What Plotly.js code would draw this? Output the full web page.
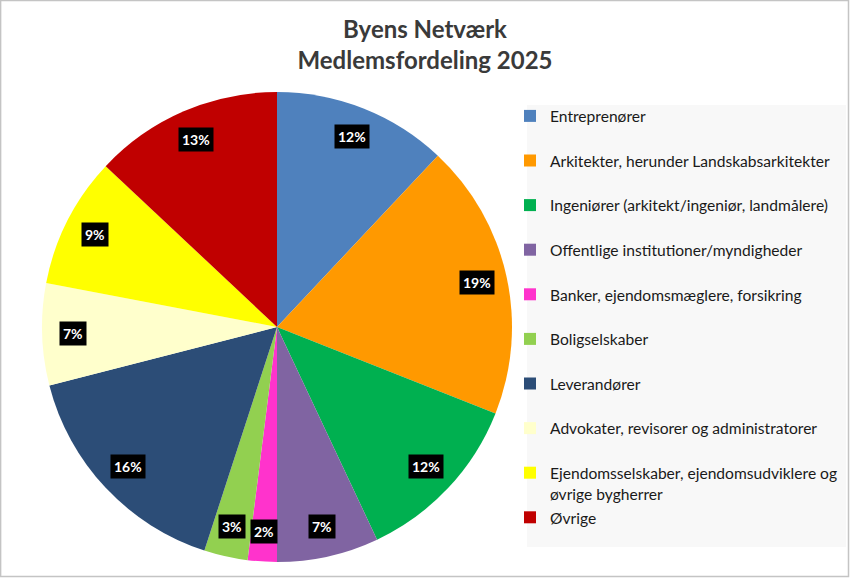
<!DOCTYPE html>
<html>
<head>
<meta charset="utf-8">
<script src="https://cdn.plot.ly/plotly-3.0.1.min.js"></script>
<style>
  html, body { margin: 0; padding: 0; background: #fff; }
  #chart { width: 850px; height: 578px; }
</style>
</head>
<body>
<div id="chart"></div>
<script>
// Member groups, clockwise from 12 o'clock
const categories = [
  "Entreprenører",
  "Arkitekter, herunder Landskabsarkitekter",
  "Ingeniører (arkitekt/ingeniør, landmålere)",
  "Offentlige institutioner/myndigheder",
  "Banker, ejendomsmæglere, forsikring",
  "Boligselskaber",
  "Leverandører",
  "Advokater, revisorer og administratorer",
  "Ejendomsselskaber, ejendomsudviklere og<br>øvrige bygherrer",
  "Øvrige"
];
// Share of members, percent
const shares = [12, 19, 12, 7, 2, 3, 16, 7, 9, 13];
const sliceColors = [
  "#4f81bd", "#ff9900", "#00b050", "#8064a2", "#ff33cc",
  "#92d050", "#2c4d77", "#ffffcc", "#ffff00", "#c00000"
];

const W = 850, H = 578;
const pieDomain = { x: [42 / W, 512 / W], y: [1 - 562 / H, 1 - 92 / H] };

// Legend entries: one text line plus an empty line, so every entry is two lines tall
const legendNames = categories.map(c =>
  '<span style="font-size:15.6px">' + c + '</span>' + (c.includes('<br>') ? '' : '<br> ')
);

// Percentage boxes at the middle angle of each slice, near the rim
const total = shares.reduce((a, b) => a + b, 0);
const cx = (pieDomain.x[0] + pieDomain.x[1]) / 2;
const cy = (pieDomain.y[0] + pieDomain.y[1]) / 2;
const rPx = Math.min((pieDomain.x[1] - pieDomain.x[0]) * W, (pieDomain.y[1] - pieDomain.y[0]) * H) / 2;
const labelRadius = 0.87 * rPx;
let cum = 0;
const annotations = shares.map(v => {
  const mid = (cum + v / 2) / total * 2 * Math.PI;
  cum += v;
  return {
    xref: 'paper', yref: 'paper',
    x: cx + labelRadius * Math.sin(mid) / W,
    y: cy + labelRadius * Math.cos(mid) / H,
    xanchor: 'center', yanchor: 'middle',
    text: '<b>' + Math.round(v / total * 100) + '%</b>',
    showarrow: false,
    bgcolor: '#000000',
    borderpad: 3,
    font: { family: 'Lato, sans-serif', size: 14, color: '#ffffff' }
  };
});

const trace = {
  type: 'pie',
  labels: legendNames,
  values: shares,
  sort: false,
  direction: 'clockwise',
  rotation: 0,
  textinfo: 'none',
  hoverinfo: 'label+percent',
  marker: { colors: sliceColors, line: { width: 0 } },
  domain: pieDomain
};

const layout = {
  width: W, height: H,
  margin: { l: 0, r: 0, t: 0, b: 0 },
  paper_bgcolor: '#ffffff',
  font: { family: 'Lato, sans-serif', color: '#1a1a1a' },
  title: {
    text: '<b>Byens Netværk<br>Medlemsfordeling 2025</b>',
    x: 0.5, xanchor: 'center',
    y: 1 - 38 / H, yanchor: 'top', yref: 'container',
    font: { family: 'Lato, sans-serif', size: 24, color: '#3a3a3a' }
  },
  showlegend: true,
  legend: {
    x: 510 / W, xanchor: 'left',
    y: 1 - 99 / H, yanchor: 'top',
    bgcolor: 'rgba(0,0,0,0)',
    valign: 'top',
    traceorder: 'normal',
    font: { family: 'Lato, sans-serif', size: 16, color: '#1a1a1a' }
  },
  annotations: annotations,
  shapes: [
    // legend panel
    { type: 'rect', xref: 'paper', yref: 'paper', layer: 'below',
      x0: 527 / W, x1: 846 / W, y0: 1 - 547 / H, y1: 1 - 105 / H,
      fillcolor: '#f8f8f8', line: { width: 0 } },
    // outer frame
    { type: 'rect', xref: 'paper', yref: 'paper', layer: 'above',
      x0: 0.6 / W, x1: 848.5 / W, y0: 1 - 576.6 / H, y1: 1 - 0.6 / H,
      fillcolor: 'rgba(0,0,0,0)', line: { width: 1.5, color: '#c4c4c4' } }
  ]
};

Plotly.newPlot('chart', [trace], layout, { displayModeBar: false, staticPlot: true });
</script>
</body>
</html>
